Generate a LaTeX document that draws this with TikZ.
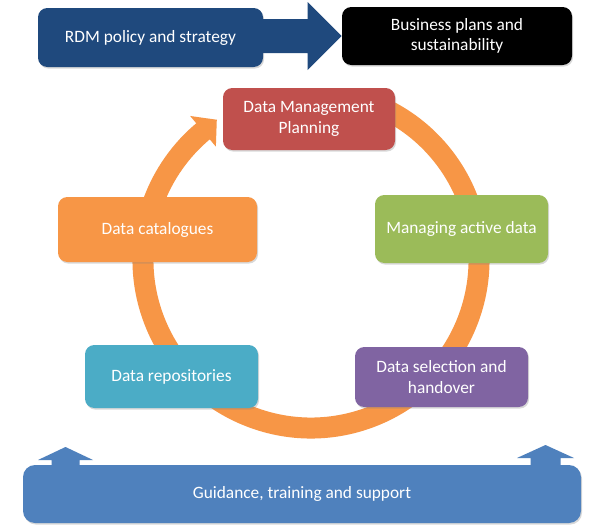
\documentclass[tikz,border=0pt]{standalone}
\usepackage{fontspec}
\setmainfont{Carlito}
\usetikzlibrary{calc,shadows}
\definecolor{rdmblue}{RGB}{31,73,125}
\definecolor{dmpred}{RGB}{192,80,77}
\definecolor{mangreen}{RGB}{155,187,89}
\definecolor{selpurple}{RGB}{128,100,162}
\definecolor{repteal}{RGB}{75,172,198}
\definecolor{catorange}{RGB}{247,150,70}
\definecolor{guideblue}{RGB}{79,129,189}
\begin{document}
\begin{tikzpicture}[x=0.75pt,y=-0.75pt,
  box/.style={draw=none, rounded corners=7pt, text=white, align=center,
    inner sep=0pt, font=\fontsize{13}{15.5}\selectfont,
    drop shadow={shadow xshift=0.8pt, shadow yshift=-1.2pt, opacity=0.3}},
  ringline/.style={draw=catorange, line width=15.75pt},
  upwing/.style={fill=guideblue}]
\useasboundingbox (0,0) rectangle (594,532);
\fill[white] (0,0) rectangle (594,532);

% circular arrow
\coordinate (c) at (311,260);
\draw[ringline] ($(c)+(-70:168)$) arc[start angle=-70, end angle=230.5, radius=168];
\fill[catorange] ($(c)+(230:188)$) -- ($(c)+(230:168)+(320:18)$) -- ($(c)+(230:148)$) -- cycle;

% top boxes and arrow
\node[box, fill=black, minimum width=172.5pt, minimum height=43.5pt] (biz) at (457,36) {Business plans and\\sustainability};
\coordinate (tip) at (biz.west);
\node[box, fill=rdmblue, minimum width=168.75pt, minimum height=44.25pt] (rdm) at (150.5,37.5) {RDM policy and strategy};
\fill[rdmblue] ($(tip -| rdm.east)+(-5,-17)$) -- ($(tip)+(-34,-17)$) -- ($(tip)+(-34,-34)$) -- (tip)
  -- ($(tip)+(-34,34)$) -- ($(tip)+(-34,17)$) -- ($(tip -| rdm.east)+(-5,17)$) -- cycle;

% cycle boxes
\node[box, fill=dmpred, minimum width=129pt, minimum height=46.5pt] (dmp) at (309,119) {Data Management\\Planning};
\node[box, fill=mangreen, minimum width=129.75pt, minimum height=51pt] (man) at (461.5,229) {Managing active data};
\node[box, fill=selpurple, minimum width=129.75pt, minimum height=45pt] (sel) at (441.5,377) {Data selection and\\handover};
\node[box, fill=repteal, minimum width=129.75pt, minimum height=47.25pt] (rep) at (171.5,376.5) {Data repositories};
\node[box, fill=catorange, minimum width=149.25pt, minimum height=48.75pt] (cat) at (157.5,229.5) {Data catalogues};

% bottom up arrows
\coordinate (la) at (65.5,447);
\coordinate (ra) at (545.5,445);
\fill[upwing] (la) -- +(27.5,13) -- +(14,13) -- +(14,26) -- +(-14,26) -- +(-14,13) -- +(-27.5,13) -- cycle;
\fill[upwing] (ra) -- +(28.5,13) -- +(15,13) -- +(15,28) -- +(-15,28) -- +(-15,13) -- +(-28.5,13) -- cycle;

% bottom box
\node[box, fill=guideblue, rounded corners=9pt, minimum width=418.5pt, minimum height=43.5pt] (guide) at (302,494) {Guidance, training and support};
\end{tikzpicture}
\end{document}
